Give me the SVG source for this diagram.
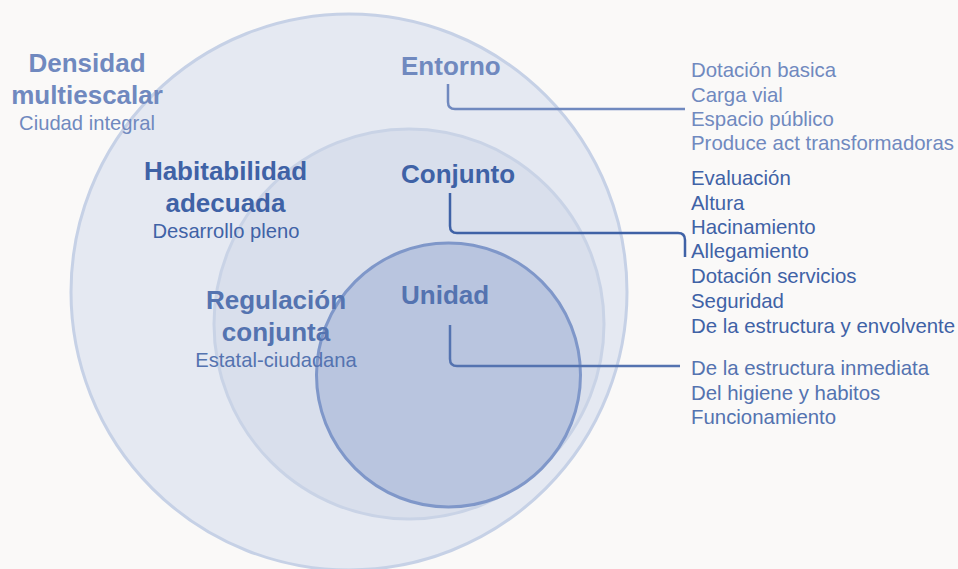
<svg xmlns="http://www.w3.org/2000/svg" width="958" height="569" viewBox="0 0 958 569">
<style>
text{font-family:"Liberation Sans",Arial,sans-serif}
.t{font-weight:bold;font-size:26px;text-anchor:middle}
.s{font-size:20.2px;text-anchor:middle}
.h{font-weight:bold;font-size:26px}
.r{font-size:20.4px}
.c1{fill:#7089bf}
.c2{fill:#3f62a6}
.c3{fill:#5473b0}
.conn{fill:none;stroke-width:2.5}
</style>
<rect width="958" height="569" fill="#faf9f8"/>
<g id="circles">
<circle id="outer" cx="349" cy="292" r="278" fill="#e5e9f2" stroke="#c6d1e6" stroke-width="3"/>
<circle id="middle" cx="409" cy="324" r="195" fill="#d9dfec" stroke="#c9d3e6" stroke-width="3"/>
<circle id="inner" cx="448.5" cy="375" r="132" fill="#b9c5df" stroke="#7f97c9" stroke-width="3"/>
</g>
<g id="labels-left">
<text class="t c1" x="87" y="72">Densidad</text>
<text class="t c1" x="87" y="104">multiescalar</text>
<text class="s c1" x="87" y="130">Ciudad integral</text>
<text class="t c2" x="225.5" y="180">Habitabilidad</text>
<text class="t c2" x="225.5" y="212">adecuada</text>
<text class="s c2" x="226" y="238">Desarrollo pleno</text>
<text class="t c3" x="276" y="309">Regulación</text>
<text class="t c3" x="276" y="341">conjunta</text>
<text class="s c3" x="276" y="367">Estatal-ciudadana</text>
</g>
<g id="entorno"><text class="h c1" x="401" y="75">Entorno</text></g>
<g id="conjunto"><text class="h c2" x="401" y="183">Conjunto</text></g>
<g id="unidad"><text class="h c3" x="401" y="304">Unidad</text></g>
<g id="connectors">
<path class="conn" stroke="#7089bf" d="M448 84 V102 Q448 109 455 109 H685"/>
<path class="conn" stroke="#3f62a6" d="M450 193 V226 Q450 233 457 233 H678 Q685 233 685 240 V257"/>
<path class="conn" stroke="#5473b0" d="M450 325 V359 Q450 366 457 366 H680"/>
</g>
<g id="list-entorno" class="r c1">
<text x="691" y="77">Dotación basica</text>
<text x="691" y="102">Carga vial</text>
<text x="691" y="126">Espacio público</text>
<text x="691" y="150">Produce act transformadoras</text>
</g>
<g id="list-conjunto" class="r c2">
<text x="691" y="185">Evaluación</text>
<text x="691" y="210">Altura</text>
<text x="691" y="234">Hacinamiento</text>
<text x="691" y="258">Allegamiento</text>
<text x="691" y="283">Dotación servicios</text>
<text x="691" y="308">Seguridad</text>
<text x="691" y="333">De la estructura y envolvente</text>
</g>
<g id="list-unidad" class="r c3">
<text x="691" y="375">De la estructura inmediata</text>
<text x="691" y="400">Del higiene y habitos</text>
<text x="691" y="424">Funcionamiento</text>
</g>
</svg>
